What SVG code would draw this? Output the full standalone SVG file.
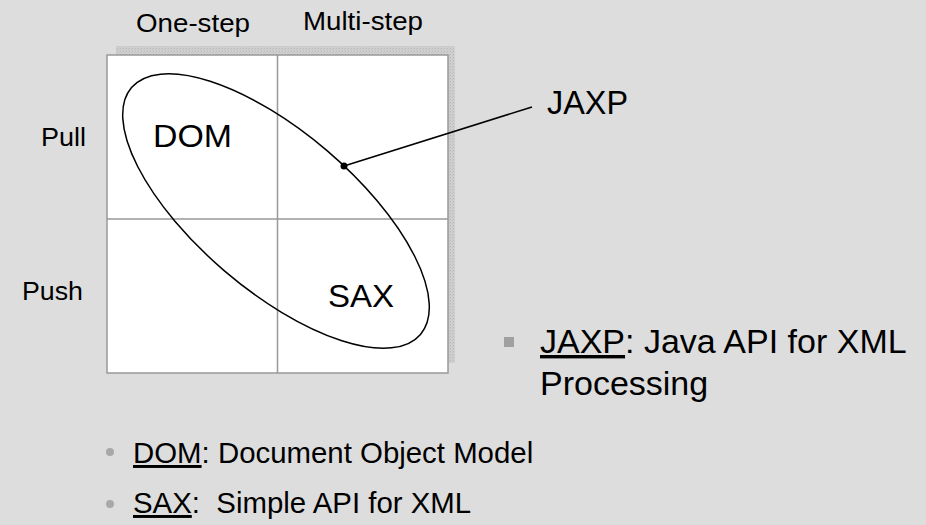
<svg xmlns="http://www.w3.org/2000/svg" width="926" height="525" viewBox="0 0 926 525">
  <defs>
    <pattern id="dots" width="3" height="3" patternUnits="userSpaceOnUse">
      <rect width="3" height="3" fill="#cfcfcf"/>
      <rect width="1" height="1" fill="#b8b8b8"/>
      <rect x="2" y="1" width="1" height="1" fill="#c2c2c2"/>
    </pattern>
  </defs>
  <style>
    text { font-family: "Liberation Sans", Arial, sans-serif; fill: #000; }
    .lbl { font-size: 25px; }
    .big { font-size: 31px; }
    .b1 { font-size: 34px; }
    .b2 { font-size: 29.4px; white-space: pre; }
    .grid { stroke: #999; stroke-width: 1.5; fill: none; }
    .cell { stroke: #999; stroke-width: 1.5; fill: #ffffff; }
  </style>
  <rect width="926" height="525" fill="#dddddd"/>

  <g id="matrix">
    <rect x="116" y="46" width="339" height="317" fill="url(#dots)"/>
    <rect x="107" y="55" width="341" height="318" class="cell"/>
    <line x1="277.5" y1="55" x2="277.5" y2="373" class="grid"/>
    <line x1="107" y1="219" x2="448" y2="219" class="grid"/>
  </g>

  <g id="col-labels">
    <text class="lbl" x="136" y="32" textLength="114" lengthAdjust="spacingAndGlyphs">One-step</text>
    <text class="lbl" x="303" y="30" textLength="120" lengthAdjust="spacingAndGlyphs">Multi-step</text>
  </g>
  <g id="row-labels">
    <text class="lbl" x="41" y="146" textLength="45" lengthAdjust="spacingAndGlyphs">Pull</text>
    <text class="lbl" x="22" y="300" textLength="61" lengthAdjust="spacingAndGlyphs">Push</text>
  </g>

  <g id="jaxp-ellipse">
    <ellipse cx="276" cy="211" rx="190" ry="79" transform="rotate(40.5 276 211)" fill="none" stroke="#000" stroke-width="1.5"/>
  </g>
  <g id="dom">
    <text class="big" x="153" y="147" textLength="79" lengthAdjust="spacingAndGlyphs">DOM</text>
  </g>
  <g id="sax">
    <text class="big" x="328" y="307" textLength="66" lengthAdjust="spacingAndGlyphs">SAX</text>
  </g>

  <g id="connectors">
    <line x1="344" y1="166" x2="532" y2="107" stroke="#000" stroke-width="1.5"/>
    <circle cx="344" cy="166" r="3.5" fill="#000"/>
  </g>
  <g id="jaxp">
    <text x="547" y="114" style="font-size:33px" textLength="81" lengthAdjust="spacingAndGlyphs">JAXP</text>
  </g>

  <g id="legend-jaxp">
    <rect x="504" y="337" width="10" height="10" fill="#a0a0a0"/>
    <text class="b1" x="540" y="353"><tspan text-decoration="underline">JAXP</tspan>: Java API for XML</text>
    <text class="b1" x="540" y="395">Processing</text>
  </g>
  <g id="legend-dom-sax">
    <circle cx="110" cy="452" r="4" fill="#a8a8a8"/>
    <text class="b2" x="133" y="463"><tspan text-decoration="underline">DOM</tspan>: Document Object Model</text>
    <circle cx="110" cy="504" r="4" fill="#a8a8a8"/>
    <text class="b2" x="133" y="513"><tspan text-decoration="underline">SAX</tspan>:  Simple API for XML</text>
  </g>
</svg>
